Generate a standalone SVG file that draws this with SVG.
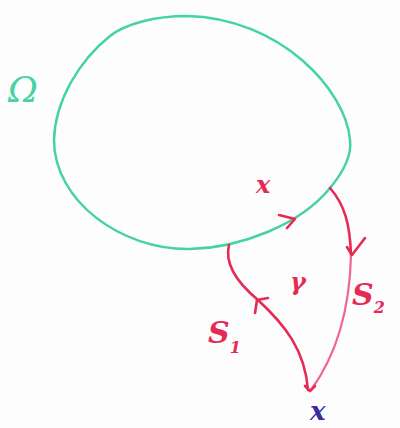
<svg xmlns="http://www.w3.org/2000/svg" width="400" height="428" viewBox="0 0 400 428">
<style>
.g{fill:none;stroke:#45d3a0;stroke-width:2.5;stroke-linecap:round}
.r{fill:none;stroke:#e62a55;stroke-width:2.6;stroke-linecap:round;stroke-linejoin:round}
.p{fill:none;stroke:#ef6690;stroke-width:2.2;stroke-linecap:round}
.lr{fill:#e62a55;font-family:"DejaVu Serif",serif;font-style:italic;font-weight:bold}
</style>
<rect width="400" height="428" fill="#fdfdfd"/>
<g id="domain">
<path class="g" d="M187,16 C155,16 125,24 110,36 C80,60 55,100 54,140 C54,200 120,250 190,249 C240,248 300,225 330,188 C345,170 352,155 350,140 C346,90 280,18 187,16 Z"/>
<text x="8" y="102" font-family="DejaVu Serif,serif" font-style="italic" font-size="36" fill="#45d3a0">Ω</text>
</g>
<g id="connectors">
<path id="S2" class="r" d="M330,188 C345,205 350,225 351,255"/>
<path class="p" d="M351,255 C350,300 340,350 311,390"/>
<polyline class="r" points="347,247 352,255 365,238"/>
<path id="S1" class="r" d="M229,245 C224,265 240,285 258,300 C285,325 305,350 308,390"/>
<polyline class="r" points="255,313 257,300 268,298"/>
<polyline class="r" points="305,386 310,391 315,386"/>
<polyline class="r" points="279,215 295,219 287,228"/>
</g>
<g id="labels">
<text class="lr" x="256" y="193" font-size="24">x</text>
<text class="lr" x="290" y="290" font-size="24">γ</text>
<text class="lr" x="352" y="305" font-size="30">S<tspan font-size="16" dy="8">2</tspan></text>
<text class="lr" x="208" y="343" font-size="30">S<tspan font-size="16" dy="10">1</tspan></text>
<text x="310" y="420" font-family="DejaVu Serif,serif" font-style="italic" font-weight="bold" font-size="26" fill="#3a2aa8">x</text>
</g>
</svg>
